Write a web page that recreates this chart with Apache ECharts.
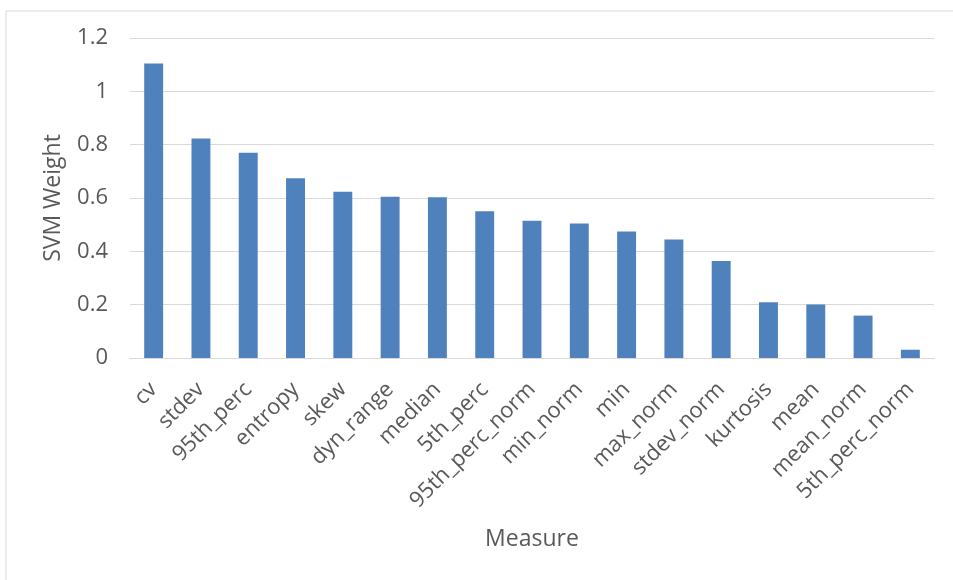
<!DOCTYPE html>
<html>
<head>
<meta charset="utf-8">
<script src="https://cdn.jsdelivr.net/npm/echarts@6/dist/echarts.min.js"></script>
<style>html,body{margin:0;padding:0;background:#fff;}#chart{width:953px;height:580px;}</style>
</head>
<body>
<div id="chart"></div>
<script>
const categories = ['cv','stdev','95th_perc','entropy','skew','dyn_range','median','5th_perc','95th_perc_norm','min_norm','min','max_norm','stdev_norm','kurtosis','mean','mean_norm','5th_perc_norm'];
const weights = [1.104,0.823,0.770,0.674,0.623,0.605,0.603,0.550,0.515,0.504,0.474,0.444,0.364,0.209,0.201,0.159,0.031];
const yTicks = [0, 0.2, 0.4, 0.6, 0.8, 1, 1.2];

const chart = echarts.init(document.getElementById('chart'));
const font = '"Open Sans", "Liberation Sans", sans-serif';
chart.setOption({
  animation: false,
  backgroundColor: '#fff',
  graphic: [{
    type: 'rect', left: 3.5, top: 8.5, silent: true,
    shape: { width: 1000, height: 700 },
    style: { fill: 'none', stroke: '#d9d9d9', lineWidth: 1 }
  }],
  grid: { left: 130, right: 19, top: 38, bottom: 222, containLabel: false },
  xAxis: {
    type: 'category',
    data: categories,
    name: 'Measure',
    nameLocation: 'middle',
    nameGap: 170,
    nameTextStyle: { fontFamily: font, fontSize: 23, color: '#595959' },
    axisLine: { lineStyle: { color: '#d9d9d9', width: 1 } },
    axisTick: { show: false },
    axisLabel: { rotate: 45, margin: 28, fontFamily: font, fontSize: 22, color: '#595959', interval: 0 }
  },
  yAxis: {
    type: 'value',
    min: 0, max: 1.2, interval: 0.2,
    name: 'SVM Weight',
    nameLocation: 'middle',
    nameGap: 65,
    nameTextStyle: { fontFamily: font, fontSize: 23, color: '#595959' },
    axisLine: { show: false },
    axisTick: { show: false },
    splitLine: { lineStyle: { color: '#d9d9d9', width: 1 } },
    axisLabel: {
      margin: 22, fontFamily: font, fontSize: 22, color: '#595959',
      formatter: v => { const t = yTicks.find(x => Math.abs(x - v) < 1e-9); return String(t !== undefined ? t : +v.toFixed(1)); }
    }
  },
  series: [{
    type: 'bar',
    data: weights,
    barWidth: '40%',
    itemStyle: { color: '#4f81bd' }
  }]
});
</script>
</body>
</html>
